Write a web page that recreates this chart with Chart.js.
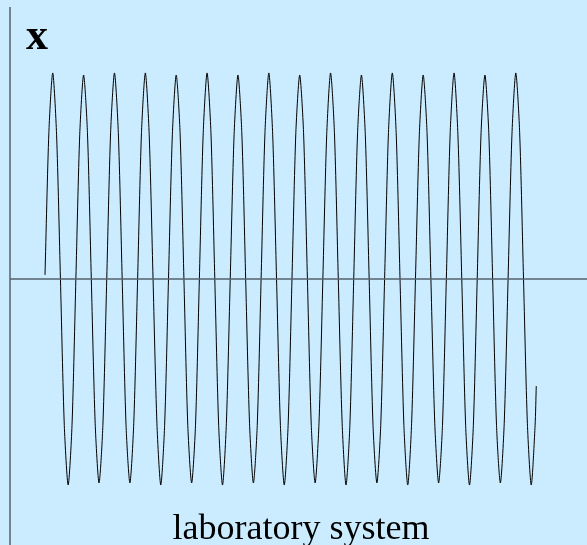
<!DOCTYPE html>
<html>
<head>
<meta charset="utf-8">
<script src="https://cdn.jsdelivr.net/npm/chart.js@4/dist/chart.umd.min.js"></script>
<style>
  html, body { margin: 0; padding: 0; background: #cbebff; }
  canvas { display: block; }
</style>
</head>
<body>
<canvas id="myChart" width="587" height="545"></canvas>
<script>
// sample number (8 samples per oscillation)
let sampleTime = [
  0, 1, 2, 3, 4, 5, 6, 7, 8, 9, 10, 11, 12, 13, 14, 15,
  16, 17, 18, 19, 20, 21, 22, 23, 24, 25, 26, 27, 28, 29, 30, 31,
  32, 33, 34, 35, 36, 37, 38, 39, 40, 41, 42, 43, 44, 45, 46, 47,
  48, 49, 50, 51, 52, 53, 54, 55, 56, 57, 58, 59, 60, 61, 62, 63,
  64, 65, 66, 67, 68, 69, 70, 71, 72, 73, 74, 75, 76, 77, 78, 79,
  80, 81, 82, 83, 84, 85, 86, 87, 88, 89, 90, 91, 92, 93, 94, 95,
  96, 97, 98, 99, 100, 101, 102, 103, 104, 105, 106, 107, 108, 109, 110, 111,
  112, 113, 114, 115, 116, 117, 118, 119, 120, 121, 122, 123, 124, 125, 126, 127,
  127.3
];

// displacement x (peak = 1)
let displacement = [
  0.02, 0.71, 1.00, 0.70, 0.00, -0.71, -1.00, -0.71, 0.00, 0.70, 0.99, 0.71, 0.00, -0.70, -0.99, -0.71,
  0.00, 0.71, 1.00, 0.71, 0.00, -0.71, -0.99, -0.70, 0.00, 0.71, 1.00, 0.70, 0.00, -0.70, -1.00, -0.71,
  0.00, 0.70, 0.99, 0.71, 0.00, -0.71, -0.99, -0.71, 0.00, 0.71, 1.00, 0.71, 0.00, -0.71, -1.00, -0.70,
  0.00, 0.70, 0.99, 0.71, 0.00, -0.70, -0.99, -0.71, 0.00, 0.71, 1.00, 0.70, 0.00, -0.71, -1.00, -0.71,
  0.00, 0.71, 0.99, 0.71, 0.00, -0.71, -0.99, -0.70, 0.00, 0.70, 1.00, 0.71, 0.00, -0.70, -1.00, -0.71,
  0.00, 0.71, 0.99, 0.70, 0.00, -0.71, -0.99, -0.71, 0.00, 0.71, 1.00, 0.71, 0.00, -0.71, -1.00, -0.70,
  0.00, 0.70, 0.99, 0.71, 0.00, -0.70, -0.99, -0.71, 0.00, 0.71, 1.00, 0.70, 0.00, -0.71, -1.00, -0.71,
  0.00, 0.71, 0.99, 0.71, 0.00, -0.71, -0.99, -0.70, 0.00, 0.70, 1.00, 0.71, 0.00, -0.70, -1.00, -0.71,
  -0.52
];

let axisTitle = 'x';
let caption = 'laboratory system';

let points = displacement.map((v, i) => ({ x: sampleTime[i], y: v }));

// background + axes + texts
let decor = {
    id: 'decor',
    beforeDraw(chart) {
        let c = chart.ctx;
        c.save();
        c.fillStyle = '#cbebff';
        c.fillRect(0, 0, chart.width, chart.height);
        c.restore();
    },
    afterDatasetsDraw(chart) {
        let c = chart.ctx;
        let area = chart.chartArea;
        let y0 = chart.scales.y.getPixelForValue(0);
        c.save();
        c.strokeStyle = '#55636d';
        c.lineWidth = 1.5;
        c.beginPath();
        c.moveTo(area.left, area.top);
        c.lineTo(area.left, area.bottom);
        c.moveTo(area.left, y0);
        c.lineTo(area.right, y0);
        c.stroke();

        c.fillStyle = '#000';
        c.textBaseline = 'alphabetic';
        c.textAlign = 'left';
        c.font = 'bold 44px "Liberation Serif", "Times New Roman", serif';
        c.fillText(axisTitle, 26, 49);
        c.textAlign = 'center';
        c.font = '36px "Liberation Serif", "Times New Roman", serif';
        c.fillText(caption, 301, 539);
        c.restore();
    }
};

let ctx = document.getElementById('myChart').getContext('2d');
let myChart = new Chart(ctx, {
    type: 'line',
    data: {
        datasets: [{
            label: 'x',
            data: points,
            borderColor: '#000000',
            borderWidth: 1,
            pointRadius: 0,
            tension: 0.25,
            fill: false
        }]
    },
    options: {
        responsive: false,
        animation: false,
        layout: { padding: { left: 10, top: 7, right: 0, bottom: 0 } },
        plugins: {
            legend: { display: false },
            tooltip: { enabled: false }
        },
        scales: {
            x: { type: 'linear', display: false, min: -9.07, max: 140.45 },
            y: { display: false, min: -1.291, max: 1.320 }
        }
    },
    plugins: [decor]
});
</script>
</body>
</html>
